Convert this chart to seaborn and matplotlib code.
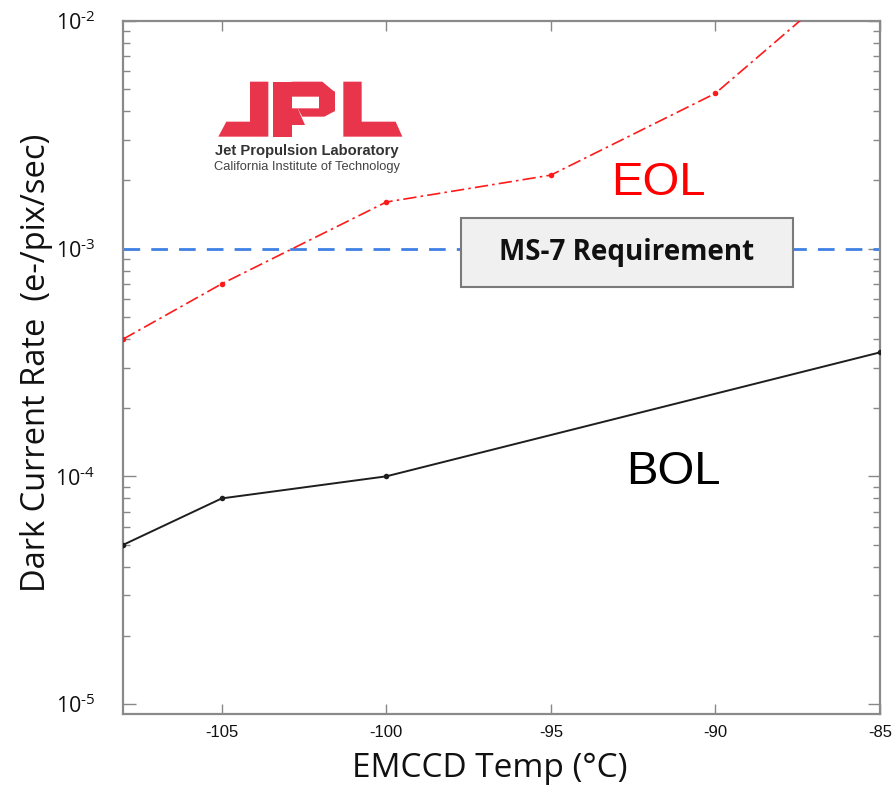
import matplotlib
matplotlib.use("Agg")
import matplotlib.pyplot as plt
import matplotlib.patches as mpatches
import seaborn as sns
import pandas as pd

# Dark current measurements (e-/pix/sec) versus EMCCD temperature (deg C)
bol_temp = [-108, -105, -100, -85]
bol_rate = [5.0e-5, 8.0e-5, 1.0e-4, 3.5e-4]
eol_temp = [-108, -105, -100, -95, -90, -85]
eol_rate = [4.0e-4, 7.0e-4, 1.6e-3, 2.1e-3, 4.8e-3, 2.0e-2]
requirement = 1.0e-3

x_ticks = [-105, -100, -95, -90, -85]
y_ticks = [1e-5, 1e-4, 1e-3, 1e-2]
y_tick_labels = ["10$^{\u2010" + str(e) + "}$" for e in (5, 4, 3, 2)]

sns.set_style("white")
plt.rcParams["font.family"] = ["Open Sans", "DejaVu Sans"]
plt.rcParams["mathtext.fontset"] = "custom"
plt.rcParams["mathtext.rm"] = "Open Sans"
plt.rcParams["mathtext.it"] = "Open Sans"
plt.rcParams["mathtext.bf"] = "Open Sans:bold"

bol = pd.DataFrame({"temp": bol_temp, "rate": bol_rate})
eol = pd.DataFrame({"temp": eol_temp, "rate": eol_rate})

fig = plt.figure(figsize=(8.96, 7.88), dpi=100)
ax = fig.add_axes([0.1373, 0.0939, 0.8448, 0.8798])

ax.axhline(requirement, color="#3f80e4", lw=2.0, dashes=(6, 4), zorder=1)

sns.lineplot(data=eol, x="temp", y="rate", ax=ax, color="#ff1a1a", lw=1.2,
             marker="o", markersize=4, markeredgewidth=0, sort=False,
             zorder=3)
ax.lines[-1].set_dashes([8, 2.5, 1.5, 2.5])
sns.lineplot(data=bol, x="temp", y="rate", ax=ax, color="#1e1e1e", lw=1.4,
             marker="o", markersize=4, markeredgewidth=0, sort=False,
             zorder=3)

ax.set_yscale("log")
ax.set_xlim(-108, -85)
ax.set_ylim(9.05e-6, 1e-2)
ax.set_xticks(x_ticks)
ax.set_xticklabels([str(t) for t in x_ticks], family="Liberation Sans",
                   fontsize=12, color="#111111")
ax.set_yticks(y_ticks)
ax.set_yticklabels(y_tick_labels, fontsize=15.5, color="#111111")
ax.tick_params(axis="x", which="major", direction="in", length=7, width=1,
               color="#888888", top=True, bottom=True, pad=8)
ax.tick_params(axis="y", which="major", direction="in", length=9, width=1,
               color="#888888", left=True, right=True, pad=20)
ax.tick_params(axis="y", which="minor", direction="in", length=5, width=1,
               color="#888888", left=True, right=True)
for sp in ax.spines.values():
    sp.set_color("#8a8a8a")
    sp.set_linewidth(1.6)

ax.set_xlabel("EMCCD Temp (°C)", fontsize=24, color="#111111")
ax.set_ylabel("Dark Current Rate  (e-/pix/sec)", fontsize=23.5,
              color="#111111")
ax.xaxis.set_label_coords(0.485, -0.078)
ax.xaxis.label.set_va("center")
ax.yaxis.set_label_coords(-0.114, 0.506)
ax.yaxis.label.set_va("center")

# Requirement label box
box = mpatches.Rectangle((0.4465, 0.616), 0.4385, 0.100,
                         transform=ax.transAxes, facecolor="#f0f0f0",
                         edgecolor="#7a7a7a", lw=1.5, zorder=4)
ax.add_patch(box)
ax.text(0.6657, 0.666, "MS-7 Requirement", transform=ax.transAxes,
        ha="center", va="center", fontsize=20, fontweight="bold",
        color="#111111", zorder=5)

ax.text(0.7067, 0.766, "EOL", transform=ax.transAxes, ha="center",
        va="center", fontsize=34, color="#ff0000",
        family="Liberation Sans", zorder=5)
ax.text(0.7266, 0.349, "BOL", transform=ax.transAxes, ha="center",
        va="center", fontsize=34, color="#000000",
        family="Liberation Sans", zorder=5)

# Laboratory logo drawn as flat polygons in its own small axes
logo = fig.add_axes([205 / 896, 1 - 145 / 788, 205 / 896, 70 / 788])
logo.set_xlim(0, 615)
logo.set_ylim(210, 0)
logo.axis("off")
logo_red = "#e8354b"
shapes = [
    [(135, 20), (190, 20), (190, 185), (40, 185), (64, 140), (135, 140)],
    [(205, 20), (260, 20), (260, 185), (205, 185)],
    [(260, 20), (352, 20), (390, 52), (390, 65), (260, 65)],
    [(342, 30), (390, 50), (390, 108), (342, 118)],
    [(278, 100), (390, 100), (390, 108), (358, 125), (292, 125)],
    [(260, 100), (278, 100), (300, 150), (260, 150)],
    [(415, 20), (470, 20), (470, 140), (572, 140), (592, 185), (415, 185)],
]
for pts in shapes:
    logo.add_patch(mpatches.Polygon(pts, closed=True, facecolor=logo_red,
                                    edgecolor="none"))

fig.text(307 / 896, 1 - 151 / 788, "Jet Propulsion Laboratory",
         ha="center", va="center", fontsize=10.6, fontweight="bold",
         family="Liberation Sans", color="#333333")
fig.text(307 / 896, 1 - 167 / 788, "California Institute of Technology",
         ha="center", va="center", fontsize=9.3,
         family="Liberation Sans", color="#444444")

fig.savefig("out.png", dpi=100)
